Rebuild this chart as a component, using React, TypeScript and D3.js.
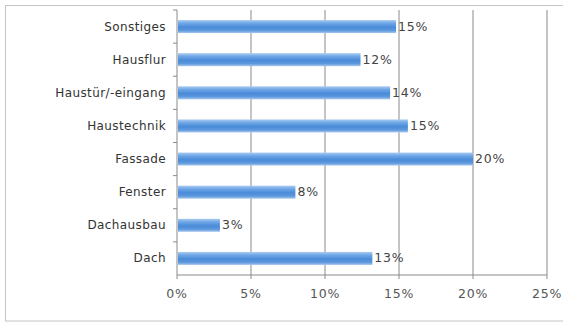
import React from "react";
import * as d3 from "d3";

const categories = ["Sonstiges", "Hausflur", "Haustür/-eingang", "Haustechnik", "Fassade", "Fenster", "Dachausbau", "Dach"];
const values = [14.8, 12.4, 14.4, 15.6, 20.0, 8.0, 2.9, 13.2];
const valueLabels = ["15%", "12%", "14%", "15%", "20%", "8%", "3%", "13%"];
const xTicks = [0, 5, 10, 15, 20, 25];

export default function App() {
  const W = 563, H = 323;
  const left = 177, right = 547, top = 10, bottom = 275;
  const x = d3.scaleLinear().domain([0, 25]).range([left, right]);
  const yb = d3.scaleBand().domain(categories).range([top, bottom]);
  const font = "'DejaVu Sans', Verdana, sans-serif";
  const axisColor = "#8a8a8a";
  return (
    <svg width={W} height={H} style={{ position: "absolute", left: 0, top: 0, background: "#fff" }}>
      <defs>
        <linearGradient id="barGrad" x1="0" y1="0" x2="0" y2="1">
          <stop offset="0" stopColor="#a9cbf1" />
          <stop offset="0.25" stopColor="#6ea6e6" />
          <stop offset="0.55" stopColor="#4a8bd9" />
          <stop offset="0.8" stopColor="#5d98dd" />
          <stop offset="1" stopColor="#a8c8ee" />
        </linearGradient>
      </defs>
      <rect x={5.5} y={5.5} width={W} height={315.5} fill="#fff" stroke="#c4c4c4" />
      {xTicks.map((t) => (
        <g key={t}>
          {t > 0 && <line x1={x(t)} x2={x(t)} y1={top} y2={bottom} stroke={axisColor} strokeWidth={1} />}
          <line x1={x(t)} x2={x(t)} y1={bottom} y2={bottom + 4} stroke={axisColor} />
          <text x={x(t)} y={298} textAnchor="middle" fontFamily={font} fontSize={12.5} letterSpacing={0.8} fill="#555">{t}%</text>
        </g>
      ))}
      <line x1={left} x2={left} y1={top} y2={bottom} stroke={axisColor} />
      <line x1={left} x2={right} y1={bottom} y2={bottom} stroke={axisColor} />
      {categories.map((c) => (
        <line key={"t" + c} x1={left - 4} x2={left} y1={yb(c)!} y2={yb(c)!} stroke={axisColor} />
      ))}
      {categories.map((c, i) => {
        const yc = yb(c)! + yb.bandwidth() / 2;
        return (
          <g key={c}>
            <rect x={x(0) + 1} y={yc - 6.5} width={x(values[i]) - x(0) - 1} height={13} fill="url(#barGrad)" />
            <text x={166} y={yc + 4} textAnchor="end" fontFamily={font} fontSize={12} letterSpacing={0.4} fill="#333">{c}</text>
            <text x={x(values[i]) + 2} y={yc + 4} fontFamily={font} fontSize={12.5} letterSpacing={0.8} fill="#444">{valueLabels[i]}</text>
          </g>
        );
      })}
    </svg>
  );
}
